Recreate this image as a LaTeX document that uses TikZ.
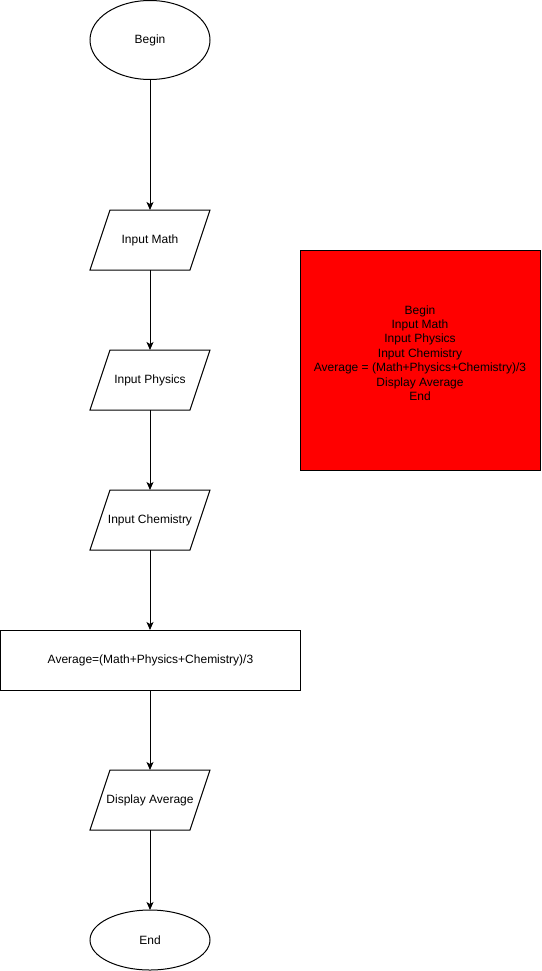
\documentclass[tikz,border=0pt]{standalone}
\usepackage{fontspec}
\setmainfont{Liberation Sans}
\usetikzlibrary{shapes.geometric,arrows.meta}
\begin{document}
\begin{tikzpicture}[x=1pt,y=-1pt,
  every node/.style={font=\fontsize{12}{14.4}\selectfont, line width=1pt, outer sep=0pt, inner sep=0pt},
  terminal/.style={draw, ellipse, minimum width=120pt},
  io/.style={rectangle, minimum width=100pt, minimum height=60pt},
  ioframe/.style={draw, line width=1pt, line join=miter},
  process/.style={draw, rectangle, minimum width=300pt, minimum height=60pt},
  flow/.style={line width=1pt, -{Stealth[length=8pt,width=7pt,inset=2pt]}},
  note/.style={draw, fill=red, rectangle, minimum width=240pt, minimum height=220pt},
  notetext/.style={align=center}
]
\useasboundingbox (0,0) rectangle (541,971);

\node[terminal, minimum height=79pt] (begin) at (150,40) {Begin};
\node[io] (math) at (150,240) {Input Math};
\node[io] (phys) at (150,380) {Input Physics};
\node[io] (chem) at (150,520) {Input Chemistry};
\node[process] (avg) at (150.5,660) {Average=(Math+Physics+Chemistry)/3};
\node[io] (disp) at (150,800) {Display Average};
\node[terminal, minimum height=60pt] (end) at (150,940) {End};

% slanted frames of the data blocks
\foreach \n in {math,phys,chem,disp}
  \draw[ioframe] ([xshift=10pt]\n.north west) -- ([xshift=10pt]\n.north east)
    -- ([xshift=-10pt]\n.south east) -- ([xshift=-10pt]\n.south west) -- cycle;

\node[note] (summary) at (420,360) {};
\node[notetext] (summarytext) at (420,353) {Begin\\Input Math\\Input Physics\\Input Chemistry\\Average = (Math+Physics+Chemistry)/3\\Display Average\\End};

\draw[flow] (begin) -- (math);
\draw[flow] (math) -- (phys);
\draw[flow] (phys) -- (chem);
\draw[flow] (chem) -- (chem |- avg.north);
\draw[flow] (chem |- avg.south) -- (disp);
\draw[flow] (disp) -- (end);
\end{tikzpicture}
\end{document}
